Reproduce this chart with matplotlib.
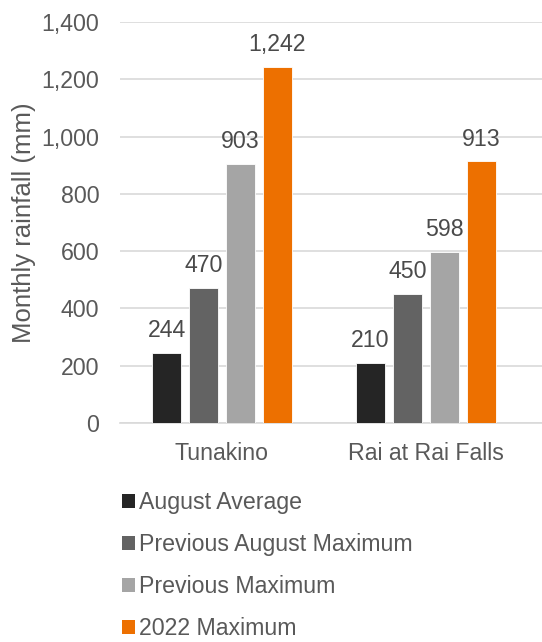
import numpy as np
import matplotlib.pyplot as plt
from matplotlib.patches import Patch

plt.rcParams['font.family'] = ['Liberation Sans', 'DejaVu Sans']

sites = ["Tunakino", "Rai at Rai Falls"]
series = ["August Average", "Previous August Maximum", "Previous Maximum", "2022 Maximum"]
august_avg = [244, 210]
prev_aug_max = [470, 450]
prev_max = [903, 598]
max_2022 = [1242, 913]
colours = ["#252525", "#636363", "#A5A5A5", "#ED7000"]

valores = [august_avg, prev_aug_max, prev_max, max_2022]
fs = 16.7

fig = plt.figure(figsize=(5.42, 6.42), dpi=100)
ax = fig.add_axes([120/542, 219/642, 422/542, 401/642])

x = np.arange(len(sites))
w = 0.142
paso = 0.181
for i, (vals, col) in enumerate(zip(valores, colours)):
    pos = x + (i - 1.5) * paso
    ax.bar(pos, vals, width=w, color=col, edgecolor="white", linewidth=0.6, zorder=3)
    for p, v in zip(pos, vals):
        ax.text(p, v + 38, f"{v:,}", ha="center", va="bottom", fontsize=fs, color="#4a4a4a")

ax.set_xlim(-0.5, 1.569)
ax.set_ylim(0, 1400)
ax.set_yticks(np.arange(0, 1401, 200))
ax.set_yticklabels([f"{t:,}" for t in range(0, 1401, 200)])
ax.set_xticks(x)
ax.set_xticklabels(sites)
ax.tick_params(axis="both", length=0, labelsize=fs, colors="#595959")
ax.tick_params(axis="y", pad=15)
ax.tick_params(axis="x", pad=14)
ax.grid(axis="y", color="#D9D9D9", linewidth=1.2, zorder=0)
for s in ["top", "right", "left"]:
    ax.spines[s].set_visible(False)
ax.spines["bottom"].set_color("#D9D9D9")
ax.spines["bottom"].set_linewidth(1.2)
ax.set_ylabel("Monthly rainfall (mm)", fontsize=18.5, color="#595959")
ax.yaxis.set_label_coords(-0.2, 0.5)

handles = [Patch(facecolor=c, edgecolor="none") for c in colours]
fig.legend(handles, series, loc="upper left", bbox_to_anchor=(113/542, 1 - 482/642),
           frameon=False, fontsize=fs, labelcolor="#595959", handlelength=0.56,
           handleheight=0.56, handletextpad=0.17, labelspacing=0.82, borderaxespad=0)

plt.savefig("out.png", dpi=100)
